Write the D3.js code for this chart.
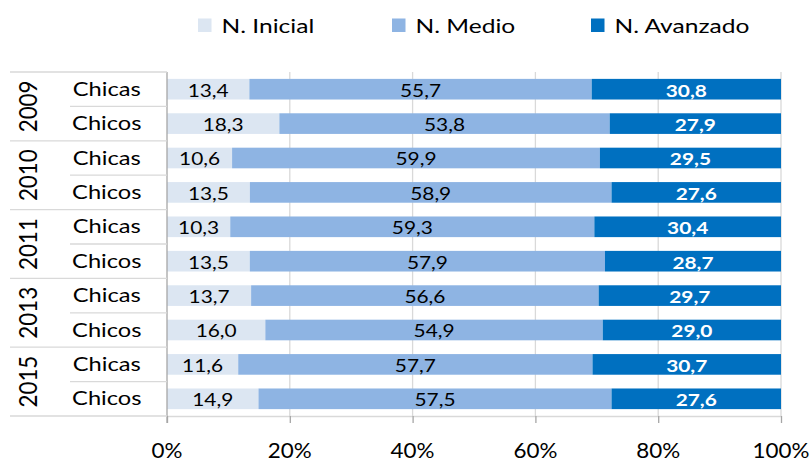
<!DOCTYPE html>
<html><head><meta charset="utf-8">
<script src="https://cdn.jsdelivr.net/npm/d3@7"></script>
<style>body{margin:0;background:#fff}svg{display:block}text{font-family:Lato,"Open Sans",sans-serif}</style>
</head><body><svg id="c" width="812" height="461"></svg>
<script>
const years = ["2009","2010","2011","2013","2015"];
const groups = ["Chicas","Chicos"];
const series = ["N. Inicial","N. Medio","N. Avanzado"];
const colors = ["#DCE6F2","#8EB4E3","#0070C0"];
const inicial = [13.4,18.3,10.6,13.5,10.3,13.5,13.7,16.0,11.6,14.9];
const medio   = [55.7,53.8,59.9,58.9,59.3,57.9,56.6,54.9,57.7,57.5];
const avanzado= [30.8,27.9,29.5,27.6,30.4,28.7,29.7,29.0,30.7,27.6];
const ticks = [0,0.2,0.4,0.6,0.8,1];

const rows = [];
years.forEach((y,i)=>groups.forEach((g,j)=>rows.push({year:y,group:g,idx:i*2+j})));
const vals = [inicial,medio,avanzado];

const svg = d3.select("#c");
const L=167,R=781,T=72,B=416;
const x = d3.scaleLinear().domain([0,1]).range([L,R]);
const yb = d3.scaleBand().domain(rows.map(r=>r.idx)).range([T,B]).paddingInner(0.4).paddingOuter(0.2);
const grey="#D9D9D9";

// measure text width
function measure(str,size,bold){
  const t=svg.append("text").attr("font-size",size).attr("font-weight",bold?"bold":"normal").text(str);
  const w=t.node().getComputedTextLength(); t.remove(); return w;
}
// text helper: horizontally stretched text (reference is wide-rendered)
function txt(px,py,str,size,sx,opts={}){
  const g = svg.append("g").attr("transform",`translate(${px},${py}) scale(${sx},1)${opts.rot?" rotate("+opts.rot+")":""}`);
  return g.append("text").attr("text-anchor",opts.anchor||"middle")
    .attr("dy",opts.dy||"0").attr("font-size",size)
    .attr("font-weight",opts.bold?"bold":"normal").attr("fill",opts.fill||"#000").text(str);
}
// per-type sizes and horizontal stretch
const fsVal=17.6, sxVal=41/measure("13,4",fsVal);
const fsCat=18.8, sxCat=68/measure("Chicas",fsCat);
const fsTick=21, sxTick=57/measure("100%",fsTick);
const fsLeg=20, sxLeg=135/measure("N. Avanzado",fsLeg);
const fsYear=52/measure("2009",1), sxYear=18.4/(0.717*fsYear);

// gridlines
svg.append("g").selectAll("line").data(ticks.slice(1)).join("line")
  .attr("x1",d=>x(d)).attr("x2",d=>x(d)).attr("y1",T).attr("y2",B)
  .attr("stroke",grey).attr("stroke-width",1.3);

// bars
rows.forEach(r=>{
  const v = vals.map(a=>a[r.idx]);
  const tot = d3.sum(v);
  let acc=0;
  const segs = v.map(val=>{const s=[x(acc/tot),x((acc+val)/tot)]; acc+=val; return s;});
  segs.forEach((s,k)=>{
    svg.append("rect").attr("x",s[0]).attr("width",s[1]-s[0])
      .attr("y",yb(r.idx)).attr("height",yb.bandwidth()).attr("fill",colors[k]);
  });
  segs.forEach((s,k)=>{
    txt((s[0]+s[1])/2, yb(r.idx)+yb.bandwidth()/2+7.3, d3.format(".1f")(v[k]).replace(".",","),
        fsVal, sxVal, {bold:k==2, fill:k==2?"#fff":"#000"});
  });
});

// bottom axis
const ax = svg.append("g").attr("transform",`translate(0,${B})`)
  .call(d3.axisBottom(x).tickValues(ticks).tickFormat(d3.format(".0%")).tickSizeInner(7).tickSizeOuter(0));
ax.select(".domain").attr("stroke",grey).attr("stroke-width",1.3);
ax.selectAll(".tick line").attr("stroke","#A6A6A6").attr("stroke-width",1.3);
ax.selectAll(".tick text").remove();
ticks.forEach(t=>txt(x(t), 457.5, d3.format(".0%")(t), fsTick, sxTick));

// vertical axis line
svg.append("line").attr("x1",L).attr("x2",L).attr("y1",T).attr("y2",B+7).attr("stroke","#A6A6A6").attr("stroke-width",1.3);

// category table lines
const step = (B-T)/rows.length;
for(let i=0;i<=rows.length;i++){
  const yy=T+i*step;
  svg.append("line").attr("x1",i%2==0?10:70).attr("x2",L).attr("y1",yy).attr("y2",yy)
    .attr("stroke",grey).attr("stroke-width",1.3);
}
rows.forEach(r=>{
  txt(106.8, yb(r.idx)+yb.bandwidth()/2+6.5, r.group, fsCat, sxCat);
});
years.forEach((yv,i)=>{
  const cy=T+(i*2+1)*step;
  txt(27.5, cy, yv, fsYear, sxYear, {rot:-90, dy:"0.36em"});
});

// legend
const lx=[198,392,591];
series.forEach((s,i)=>{
  svg.append("rect").attr("x",lx[i]).attr("y",18.5).attr("width",13.5).attr("height",13.5).attr("fill",colors[i]);
  txt(lx[i]+23.5, 33, s, fsLeg, sxLeg, {anchor:"start"});
});
</script></body></html>
